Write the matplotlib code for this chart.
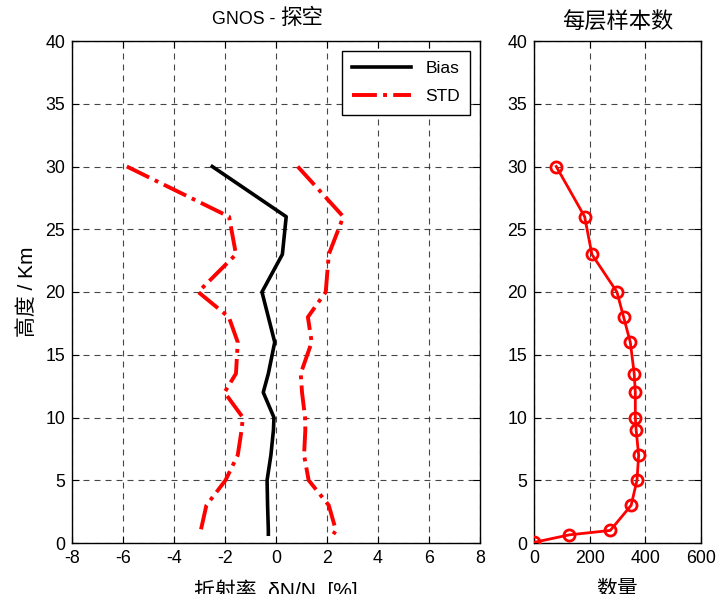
import matplotlib
matplotlib.use("Agg")
import matplotlib.pyplot as plt
import numpy as np

plt.rcParams['font.family'] = ['Liberation Sans', 'Noto Sans CJK SC', 'DejaVu Sans']
plt.rcParams['font.size'] = 12.5
plt.rcParams['axes.unicode_minus'] = False

# ---- data ----
heights = [30, 26, 23, 20, 18, 16, 13.5, 12, 10, 9, 7, 5, 3, 1, 0.7]
bias = [-2.5, 0.4, 0.25, -0.55, -0.3, -0.05, -0.3, -0.5, -0.08, -0.1, -0.2, -0.35, -0.33, -0.3, -0.3]
std = [3.35, 2.24, 1.82, 2.5, 1.55, 1.45, 1.27, 1.52, 1.22, 1.25, 1.3, 1.63, 2.4, 2.65, 2.55]

count_heights = [30, 26, 23, 20, 18, 16, 13.5, 12, 10, 9, 7, 5, 3, 1, 0.65, 0.05]
counts = [80, 182, 208, 298, 322, 346, 360, 364, 364, 367, 376, 370, 349, 274, 127, 0]

left_xticks = [-8, -6, -4, -2, 0, 2, 4, 6, 8]
right_xticks = [0, 200, 400, 600]
yticks = [0, 5, 10, 15, 20, 25, 30, 35, 40]

fig = plt.figure(figsize=(7.16, 5.94), dpi=100)
ax1 = fig.add_axes([72/716, 1-543/594, (480-72)/716, (543-41)/594])
ax2 = fig.add_axes([534/716, 1-543/594, (701-534)/716, (543-41)/594])

b = np.array(bias)
s = np.array(std)
ax1.plot(b, heights, color='black', lw=2.6, label='Bias', zorder=3)
ax1.plot(b - s, heights, color='red', lw=2.8, ls='-.', label='STD', zorder=3)
ax1.plot(b + s, heights, color='red', lw=2.8, ls='-.', zorder=3)
ax1.set_xlim(-8, 8)
ax1.set_ylim(0, 40)
ax1.set_xticks(left_xticks)
ax1.set_yticks(yticks)

# title: latin part smaller than the CJK part, as in the reference
ax1.text(0.51, 1.0 + 17/502, 'GNOS - ', transform=ax1.transAxes, ha='right',
         va='baseline', fontsize=12.8)
ax1.text(0.51, 1.0 + 17/502, '探空', transform=ax1.transAxes, ha='left',
         va='baseline', fontsize=15.5)

ax1.set_ylabel('高度 / Km', fontsize=15, labelpad=6)
ax1.set_xlabel('折射率  δN/N  [%]', fontsize=15, labelpad=9)
leg = ax1.legend(loc='upper right', fancybox=False, edgecolor='black', framealpha=1,
                 handlelength=3.4, borderaxespad=0.55, fontsize=12.5,
                 labelspacing=0.75, borderpad=0.6)
leg.get_frame().set_linewidth(1.0)

ax2.plot(counts, count_heights, color='red', lw=2, marker='o', ms=8, mfc='none',
         mec='red', mew=2, zorder=3)
ax2.set_xlim(0, 600)
ax2.set_ylim(0, 40)
ax2.set_xticks(right_xticks)
ax2.set_yticks(yticks)
ax2.set_title('每层样本数', fontsize=16, pad=9)
ax2.set_xlabel('数量', fontsize=15, labelpad=9)

for ax in (ax1, ax2):
    ax.grid(True, color='#333333', ls=(0, (5.4, 4.5)), lw=0.8, alpha=0.9)
    ax.tick_params(direction='in', top=True, right=True, length=5, width=0.8,
                   labelsize=12.8, pad=5)
    for sp in ax.spines.values():
        sp.set_linewidth(1.0)

fig.savefig('out.png', dpi=100)
